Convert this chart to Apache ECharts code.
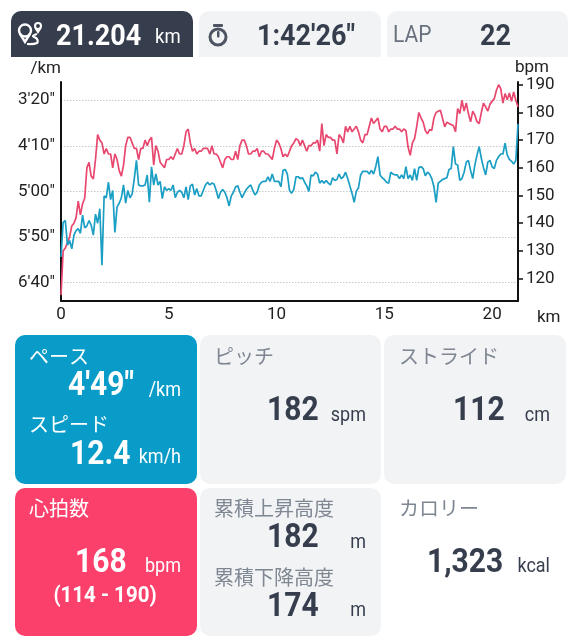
<!DOCTYPE html>
<html>
<head>
<meta charset="utf-8">
<style>
	html, body { margin: 0; padding: 0; background: #fff; }
	#main { width: 579px; height: 640px; }
</style>
<script src="https://cdn.jsdelivr.net/npm/echarts@6/dist/echarts.min.js"></script>
</head>
<body>
<div id="main"></div>
<script>
// one reading every 0.1 km
var stepKm = 0.1;

// heart rate, bpm
var heartRate = [
	114, 130, 131, 133, 135, 139, 140, 142, 148, 143,
	147, 149, 160, 162, 157, 156, 163, 172, 170, 169,
	165, 167, 165, 165, 160, 165, 163, 159, 157, 161,
	168, 171, 171, 169, 167, 167, 163, 167, 167, 170,
	168, 170, 171, 161, 168, 166, 162, 161, 160, 163,
	163, 164, 163, 165, 167, 165, 165, 168, 173, 174,
	169, 166, 167, 165, 166, 166, 167, 167, 167, 165,
	168, 165, 165, 164, 162, 160, 163, 164, 164, 163,
	163, 166, 163, 168, 170, 170, 168, 165, 165, 166,
	166, 167, 164, 166, 166, 165, 165, 164, 163, 167,
	170, 169, 167, 164, 165, 164, 166, 168, 169, 170.5,
	170, 168, 170, 168, 166, 168, 168, 169, 169, 170,
	166, 176, 168, 172, 171, 171, 170, 170, 165, 172,
	171, 169, 175, 173, 175, 173, 174, 175, 173, 170,
	169, 172, 172, 175, 178, 176, 177, 178, 174, 173,
	175, 175, 173, 174, 174, 175, 174, 174, 173, 174,
	173.5, 167.5, 164.5, 169, 170.5, 174.8, 180, 178, 176.5, 173.5,
	172.3, 173.8, 173.5, 178, 180, 180.4, 180.8, 177.8, 174.8, 176.5,
	176, 175.6, 175.3, 173, 181.4, 179.6, 184.4, 180.5, 183.4, 179.6,
	176.6, 180.5, 179, 176.6, 176, 180, 183.4, 182, 180.5, 183,
	184, 185, 188, 190, 188.6, 183.4, 186.8, 184.6, 187, 184,
	187.4, 184.4, 182
];

// pace, seconds per km
var paceSeconds = [
	372, 334, 332, 359, 354, 363, 348, 343, 341, 346,
	326, 340, 338, 332, 337, 348, 325, 335, 319, 381,
	305, 307, 290, 309, 299, 345, 317, 313, 307, 293,
	313, 299, 307, 303, 286, 266, 293, 294, 294, 293,
	282, 312, 273, 293, 281, 293, 289, 308, 295, 299,
	297, 299, 293, 307, 301, 299, 301, 307, 295, 309,
	294, 292, 304, 297, 305, 305, 299, 293, 290, 293,
	291, 292, 299, 308, 301, 298, 301, 307, 316, 305,
	301, 295, 294, 301, 307, 302, 298, 295, 293, 299,
	304, 301, 293, 290, 289, 289, 284, 289, 281, 289,
	289, 289, 295, 277, 276, 281, 299, 302, 298, 284,
	284, 286, 285, 290, 294, 300, 282, 283, 279, 281,
	291, 288, 291, 288, 291, 293, 285, 288, 287, 281,
	286, 284, 279, 286, 294, 302, 312, 300, 296, 282,
	278, 278, 278, 281, 277, 281, 273, 262, 282, 285,
	287, 290, 291, 279, 281, 282, 282, 286, 282, 286,
	273, 286, 282, 288, 275, 288, 274, 273, 275, 283,
	279, 281, 286, 295, 312, 291, 289, 287, 286, 285,
	276, 275, 251, 270, 271, 288, 286, 279, 268, 266,
	277, 286, 271, 260, 251, 264, 274, 282, 268, 266,
	273, 275, 266, 262, 259, 259, 247, 260, 265, 267,
	270, 266, 226
];

var kmTicks = [0, 5, 10, 15, 20];
var paceTicks = [200, 250, 300, 350, 400];
var bpmTicks = [120, 130, 140, 150, 160, 170, 180, 190];

var FONT = 'Roboto, "Noto Sans CJK JP", sans-serif';
var JP_FONT = '"Noto Sans CJK JP", Roboto, sans-serif';
var DARK = '#363e4e';
var GREY = '#7e8792';
var PANEL = '#f2f3f5';

function toSeries(values) {
	return values.map(function(v, i) {
		return [Math.round(i * stepKm * 10) / 10, v];
	});
}

function paceLabel(sec) {
	var s = sec % 60;
	return Math.floor(sec / 60) + "'" + (s < 10 ? '0' + s : s) + '"';
}

function card(x, y, w, h, color, r) {
	return {
		type: 'rect',
		silent: true,
		shape: { x: x, y: y, width: w, height: h, r: r || 10 },
		style: { fill: color }
	};
}

// the numbers in the reference are a little taller than plain Roboto
function txt(text, x, y, size, color, bold, align, font) {
	return {
		type: 'text',
		silent: true,
		x: x,
		y: bold ? y + 2 : y,
		scaleY: font ? 1 : 1.12,
		style: {
			text: text,
			fill: color,
			font: (bold ? '700 ' : '400 ') + size + 'px ' + (font || FONT),
			textAlign: align || 'left',
			textVerticalAlign: 'middle'
		}
	};
}

function jp(text, x, y, color) {
	return txt(text, x, y, 20, color || GREY, false, 'left', JP_FONT);
}

function ring(cx, cy, r, color, width) {
	return {
		type: 'circle',
		silent: true,
		shape: { cx: cx, cy: cy, r: r },
		style: { fill: 'transparent', stroke: color, lineWidth: width }
	};
}

function stroke(points, color, width, smooth) {
	return {
		type: 'polyline',
		silent: true,
		shape: { points: points, smooth: smooth || 0 },
		style: { fill: 'transparent', stroke: color, lineWidth: width }
	};
}

var elements = [
	// top tabs
	card(11, 11, 182, 46, DARK, [10, 10, 0, 0]),
	card(199, 11, 182, 46, PANEL, [10, 10, 0, 0]),
	card(387, 11, 181, 46, PANEL, [10, 10, 0, 0]),
	// bottom cards
	card(15, 335, 182, 149, '#0a9cc8'),
	card(200, 335, 181, 149, PANEL),
	card(384, 335, 182, 149, PANEL),
	card(15, 488, 182, 148, '#fb406c'),
	card(200, 488, 181, 148, PANEL),

	// route icon
	ring(25, 30.5, 6, '#fff', 2.4),
	stroke([[19.8, 33.5], [25, 42], [30.2, 33.5]], '#fff', 2.4),
	ring(38, 26, 3, '#fff', 2),
	stroke([[35.5, 28], [38, 32], [40.5, 28]], '#fff', 2),
	stroke([[37, 34], [33, 36], [37, 39], [37, 43], [27, 44]], '#fff', 2.2, 0.4),
	// stopwatch icon
	ring(218, 37, 8, '#4d5563', 3),
	card(213, 24, 10, 3, '#4d5563', 1),
	card(217, 31, 2.5, 6.5, '#4d5563', 1),

	txt('21.204', 56, 35, 27, '#fff', true),
	txt('km', 155, 38, 18.5, '#fff'),
	txt('1:42\'26"', 257, 35, 27, DARK, true),
	txt('LAP', 393, 36, 21, '#69717e'),
	txt('22', 480, 35, 27, DARK, true),

	// pace and speed
	jp('ペース', 29, 356, '#fff'),
	txt('4\'49"', 68, 385, 30, '#fff', true),
	txt('/km', 181, 391, 18, '#fff', false, 'right'),
	jp('スピード', 29, 424, '#fff'),
	txt('12.4', 70, 454, 30, '#fff', true),
	txt('km/h', 181, 458, 18, '#fff', false, 'right'),

	// cadence and stride
	jp('ピッチ', 214, 356),
	txt('182', 267, 410, 30, DARK, true),
	txt('spm', 366, 416, 18, DARK, false, 'right'),
	jp('ストライド', 399, 356),
	txt('112', 453, 410, 30, DARK, true),
	txt('cm', 550, 416, 18, DARK, false, 'right'),

	// heart rate
	jp('心拍数', 29, 508, '#fff'),
	txt('168', 75, 562, 30, '#fff', true),
	txt('bpm', 181, 567, 18, '#fff', false, 'right'),
	txt('(114 - 190)', 105, 594, 20.5, '#fff', true, 'center'),

	// elevation
	jp('累積上昇高度', 214, 508),
	txt('182', 267, 537, 30, DARK, true),
	txt('m', 366, 543, 18, DARK, false, 'right'),
	jp('累積下降高度', 214, 577),
	txt('174', 267, 606, 30, DARK, true),
	txt('m', 366, 611, 18, DARK, false, 'right'),

	// calories
	jp('カロリー', 399, 508),
	txt('1,323', 427, 562, 30, DARK, true),
	txt('kcal', 550, 567, 18, DARK, false, 'right')
];

var axisText = { color: '#222', fontSize: 17, fontFamily: FONT };
var blackLine = { show: true, onZero: false, lineStyle: { color: '#111', width: 2 } };

var option = {
	animation: false,
	backgroundColor: '#fff',
	grid: { left: 61, right: 61, top: 82, bottom: 339.3 },
	graphic: { elements: elements },
	xAxis: {
		type: 'value',
		min: 0,
		max: 21.2,
		name: 'km',
		nameLocation: 'end',
		nameGap: 19,
		nameTextStyle: { color: '#222', fontSize: 17, fontFamily: FONT, verticalAlign: 'top', padding: [9, 0, 0, 0] },
		axisLine: blackLine,
		axisTick: { show: false, customValues: kmTicks },
		axisLabel: { customValues: kmTicks, margin: 6, color: '#222', fontSize: 17, fontFamily: FONT },
		splitLine: { show: false }
	},
	yAxis: [{
		type: 'value',
		inverse: true,
		min: 180,
		max: 420,
		position: 'left',
		name: '/km',
		nameLocation: 'start',
		nameGap: 5,
		nameTextStyle: { color: '#222', fontSize: 17, fontFamily: FONT, align: 'right' },
		axisLine: blackLine,
		axisTick: { show: false, customValues: paceTicks },
		axisLabel: Object.assign({ customValues: paceTicks, margin: 6, formatter: paceLabel }, axisText),
		splitLine: { show: true, lineStyle: { color: '#c9c9c9', width: 1, type: [1.5, 1.5] } }
	}, {
		type: 'value',
		min: 112,
		max: 191,
		position: 'right',
		name: 'bpm',
		nameLocation: 'end',
		nameGap: 5,
		nameTextStyle: { color: '#222', fontSize: 17, fontFamily: FONT, align: 'center', padding: [0, 0, 0, 28] },
		axisLine: blackLine,
		axisTick: { show: true, customValues: bpmTicks, length: 5, lineStyle: { color: '#111', width: 1.5 } },
		axisLabel: Object.assign({ customValues: bpmTicks, margin: 8 }, axisText),
		splitLine: { show: false }
	}],
	series: [{
		name: '心拍数',
		type: 'line',
		yAxisIndex: 1,
		showSymbol: false,
		data: toSeries(heartRate),
		lineStyle: { color: '#e8476f', width: 1.7 },
		itemStyle: { color: '#e8476f' }
	}, {
		name: 'ペース',
		type: 'line',
		yAxisIndex: 0,
		showSymbol: false,
		data: toSeries(paceSeconds),
		lineStyle: { color: '#1a9ec4', width: 1.7 },
		itemStyle: { color: '#1a9ec4' }
	}]
};

var chart = echarts.init(document.getElementById('main'));
chart.setOption(option);
</script>
</body>
</html>
